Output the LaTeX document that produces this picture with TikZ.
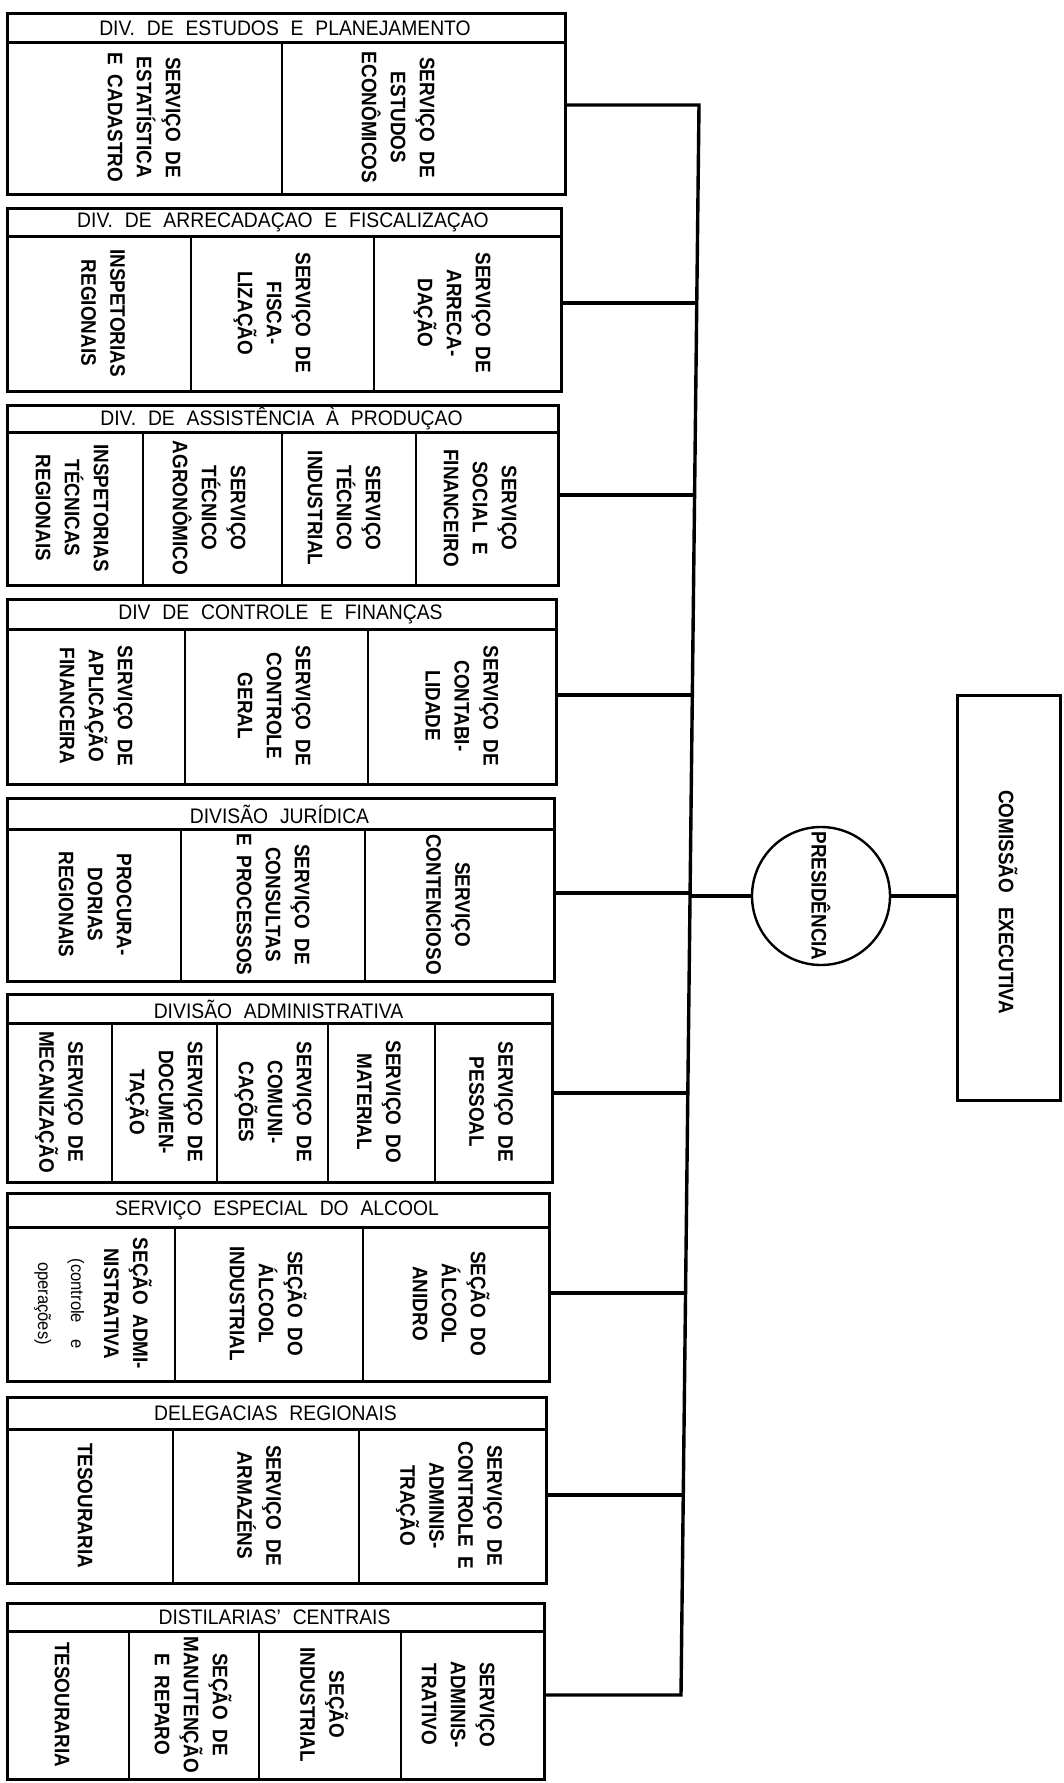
\documentclass[tikz,border=0pt]{standalone}
\usepackage{fontspec}
\setmainfont{Liberation Sans}
\newfontfamily\titlefam{Liberation Sans}[FakeStretch=0.92,WordSpace=2.2]
\newfontfamily\cellfam{Liberation Sans}[FakeStretch=0.9,WordSpace=1.8]

\tikzset{
  divframe/.style={draw, line width=3.2pt, inner sep=0pt, anchor=north west},
  cellbox/.style={draw, line width=2pt, inner sep=0pt, anchor=north west},
  titlerule/.style={line width=2.8pt},
  titletext/.style={font=\titlefam\fontsize{21}{25}\selectfont, inner sep=0pt},
  celltext/.style={font=\cellfam\bfseries\fontsize{21}{29}\selectfont, rotate=-90, align=center, inner sep=0pt},
  conn/.style={line width=3.4pt},
  prescircle/.style={circle, draw, line width=2.4pt, minimum size=138pt, inner sep=0pt},
  prestext/.style={font=\cellfam\bfseries\fontsize{21}{25}\selectfont, rotate=-90, inner sep=0pt},
  combox/.style={draw, line width=3pt, inner sep=0pt},
}

% small lower-case note lines inside a cell
\newcommand\noteline[1]{{\titlefam\mdseries\fontsize{18}{29}\selectfont #1}}

% one sub-unit cell: name, left, right, top, bottom, label x, label
\newcommand\unitcell[7]{%
  \node[cellbox, minimum width={#3-#2}, minimum height={#5-#4}] (#1) at (#2,#4) {};
  \node[celltext] (#1-label) at (#6,{(#4+#5)/2}) {#7};
}
% outer frame of a division with its title bar: name, top, title bottom, bottom, right, title
\newcommand\divisionframe[6]{%
  \node[divframe, minimum width={#5-6}, minimum height={#4-#2}] (#1) at (6,#2) {};
  \draw[titlerule] (6,#3) -- (#5,#3);
  \node[titletext] (#1-title) at ({(6+#5)/2},{(#2+#3)/2+1}) {#6};
}

\begin{document}
\begin{tikzpicture}[x=1pt,y=-1pt]
\fill[white] (0,0) rectangle (1064,1783);
\useasboundingbox (0,0) rectangle (1064,1783);

% --- Div. de Estudos e Planejamento
\unitcell{d1a}{6}{281}{42}{193}{144}{SERVIÇO DE\\ESTATÍSTICA\\E CADASTRO}
\unitcell{d1b}{281}{564}{42}{193}{398}{SERVIÇO DE\\ESTUDOS\\ECONÔMICOS}
\divisionframe{d1}{12}{42}{193}{564}{DIV. DE ESTUDOS E PLANEJAMENTO}

% --- Div. de Arrecadação e Fiscalização
\unitcell{d2a}{6}{190}{236}{390}{103}{INSPETORIAS\\REGIONAIS}
\unitcell{d2b}{190}{373}{236}{390}{272}{SERVIÇO DE\\FISCA-\\LIZAÇÃO}
\unitcell{d2c}{373}{560}{236}{390}{452}{SERVIÇO DE\\ARRECA-\\DAÇÃO}
\divisionframe{d2}{207}{236}{390}{560}{DIV. DE ARRECADAÇAO E FISCALIZAÇAO}

% --- Div. de Assistência à Produção
\unitcell{d3a}{6}{142}{432}{584}{72}{INSPETORIAS\\TÉCNICAS\\REGIONAIS}
\unitcell{d3b}{142}{281}{432}{584}{209}{SERVIÇO\\TÉCNICO\\AGRONÔMICO}
\unitcell{d3c}{281}{415}{432}{584}{344}{SERVIÇO\\TÉCNICO\\INDUSTRIAL}
\unitcell{d3d}{415}{557}{432}{584}{480}{SERVIÇO\\SOCIAL E\\FINANCEIRO}
\divisionframe{d3}{404}{432}{584}{557}{DIV. DE ASSISTÊNCIA À PRODUÇAO}

% --- Div. de Controle e Finanças
\unitcell{d4a}{6}{184}{629}{783}{96}{SERVIÇO DE\\APLICAÇÃO\\FINANCEIRA}
\unitcell{d4b}{184}{367}{629}{783}{274}{SERVIÇO DE\\CONTROLE\\GERAL}
\unitcell{d4c}{367}{555}{629}{783}{462}{SERVIÇO DE\\CONTABI-\\LIDADE}
\divisionframe{d4}{598}{629}{783}{555}{DIV DE CONTROLE E FINANÇAS}

% --- Divisão Jurídica
\unitcell{d5a}{6}{180}{829}{980}{95}{PROCURA-\\DORIAS\\REGIONAIS}
\unitcell{d5b}{180}{364}{829}{980}{273}{SERVIÇO DE\\CONSULTAS\\E PROCESSOS}
\unitcell{d5c}{364}{553}{829}{980}{448}{SERVIÇO\\CONTENCIOSO}
\divisionframe{d5}{797}{829}{980}{553}{DIVISÃO JURÍDICA}

% --- Divisão Administrativa
\unitcell{d6a}{6}{111}{1023}{1181}{59}{SERVIÇO DE\\MECANIZAÇÃO}
\unitcell{d6b}{111}{216}{1023}{1181}{164}{SERVIÇO DE\\DOCUMEN-\\TAÇÃO}
\unitcell{d6c}{216}{327}{1023}{1181}{273}{SERVIÇO DE\\COMUNI-\\CAÇÕES}
\unitcell{d6d}{327}{434}{1023}{1181}{379}{SERVIÇO DO\\MATERIAL}
\unitcell{d6e}{434}{551}{1023}{1181}{491}{SERVIÇO DE\\PESSOAL}
\divisionframe{d6}{993}{1023}{1181}{551}{DIVISÃO ADMINISTRATIVA}

% --- Serviço Especial do Álcool
\unitcell{d7a}{6}{174}{1227}{1380}{93}{SEÇÃO ADMI-\\NISTRATIVA\\[4pt]\noteline{(controle\hspace{16pt}e}\\[4pt]\noteline{operações)}}
\unitcell{d7b}{174}{362}{1227}{1380}{268}{SEÇÃO DO\\ÁLCOOL\\INDUSTRIAL}
\unitcell{d7c}{362}{548}{1227}{1380}{451}{SEÇÃO DO\\ÁLCOOL\\ANIDRO}
\divisionframe{d7}{1192}{1227}{1380}{548}{SERVIÇO ESPECIAL DO ALCOOL}

% --- Delegacias Regionais
\unitcell{d8a}{6}{172}{1429}{1582}{85}{TESOURARIA}
\unitcell{d8b}{172}{358}{1429}{1582}{259}{SERVIÇO DE\\ARMAZÉNS}
\unitcell{d8c}{358}{545}{1429}{1582}{449}{SERVIÇO DE\\CONTROLE E\\ADMINIS-\\TRAÇÃO}
\divisionframe{d8}{1396}{1429}{1582}{545}{DELEGACIAS REGIONAIS}

% --- Distilarias Centrais
\unitcell{d9a}{6}{128}{1631}{1778}{62}{TESOURARIA}
\unitcell{d9b}{128}{258}{1631}{1778}{193}{SEÇÃO DE\\MANUTENÇÃO\\E REPARO}
\unitcell{d9c}{258}{400}{1631}{1778}{324}{SEÇÃO\\INDUSTRIAL}
\unitcell{d9d}{400}{543}{1631}{1778}{458}{SERVIÇO\\ADMINIS-\\TRATIVO}
\divisionframe{d9}{1602}{1631}{1778}{543}{DISTILARIAS’ CENTRAIS}

% --- bus joining the divisions
\coordinate (bus1) at (699,105);
\coordinate (bus2) at (697,303);
\coordinate (bus3) at (694.6,495);
\coordinate (bus4) at (692.3,695);
\coordinate (bus5) at (690.1,893);
\coordinate (bus6) at (687.8,1093);
\coordinate (bus7) at (685.6,1293);
\coordinate (bus8) at (683.3,1495);
\coordinate (bus9) at (681,1695);
\coordinate (busp) at (690,896);

\draw[conn] (bus1 -| d1.east) -- (bus1) -- (bus9) -- (bus9 -| d9.east);
\draw[conn] (bus2 -| d2.east) -- (bus2);
\draw[conn] (bus3 -| d3.east) -- (bus3);
\draw[conn] (bus4 -| d4.east) -- (bus4);
\draw[conn] (bus5 -| d5.east) -- (bus5);
\draw[conn] (bus6 -| d6.east) -- (bus6);
\draw[conn] (bus7 -| d7.east) -- (bus7);
\draw[conn] (bus8 -| d8.east) -- (bus8);

% --- presidency and executive commission
\node[prescircle] (pres) at (821,896) {};
\node[prestext] (pres-label) at (pres.center) {PRESIDÊNCIA};
\node[combox, minimum width=103pt, minimum height=405pt] (com) at (1008.5,897.5) {};
\node[prestext] (com-label) at (1008,902) {COMISSÃO\hspace{14pt}EXECUTIVA};

\draw[conn] (busp) -- (pres.west);
\draw[conn] (pres.east) -- (pres.east -| com.west);
\end{tikzpicture}
\end{document}
